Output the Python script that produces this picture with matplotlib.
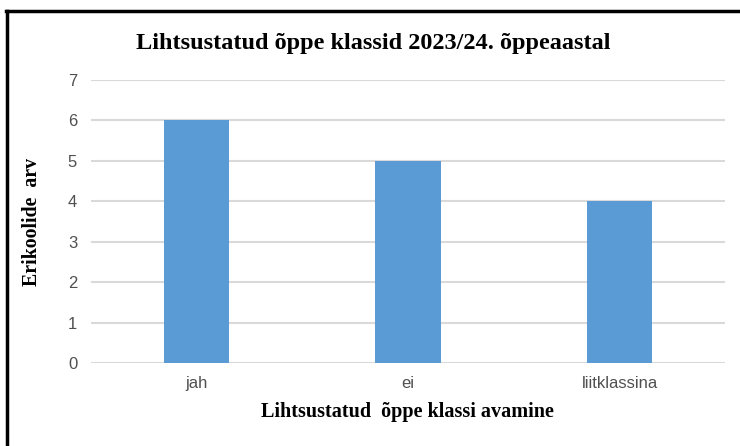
import matplotlib.pyplot as plt
from matplotlib.lines import Line2D

categories = ['jah', 'ei', 'liitklassina']
values = [6, 5, 4]
y_ticks = [0, 1, 2, 3, 4, 5, 6, 7]

title = 'Lihtsustatud õppe klassid 2023/24. õppeaastal'
x_label = 'Lihtsustatud  õppe klassi avamine'
y_label = 'Erikoolide  arv'


def main():
    fig = plt.figure(figsize=(7.4, 4.46), dpi=100)
    ax = fig.add_axes([0.123, 0.186, 0.857, 0.6346])

    ax.bar(range(len(categories)), values, width=0.31, color='#5b9bd5', zorder=3)
    ax.set_xlim(-0.5, len(categories) - 0.5)
    ax.set_ylim(0, 7)
    ax.set_yticks(y_ticks)
    ax.set_xticks(range(len(categories)))
    ax.set_xticklabels(categories)

    ax.grid(axis='y', color='#d9d9d9', linewidth=1.5, zorder=0)
    for s in ax.spines.values():
        s.set_visible(False)
    ax.tick_params(length=0, labelsize=12, labelcolor='#505050', pad=10,
                   labelfontfamily='Liberation Sans')
    ax.tick_params(axis='x', pad=9)

    fig.text(0.505, 0.902, title, ha='center', va='center',
             fontsize=17.5, fontweight='bold', family='Liberation Serif')
    fig.text(0.551, 0.076, x_label, ha='center', va='center',
             fontsize=14.5, fontweight='bold', family='Liberation Serif')
    fig.text(0.043, 0.502, y_label, ha='center', va='center', rotation=90,
             fontsize=14.3, fontweight='bold', family='Liberation Serif')

    # border of the picture (left and top only)
    fig.add_artist(Line2D([0.0101, 0.0101], [0.0, 0.9753], color='black',
                          linewidth=2.5, transform=fig.transFigure))
    fig.add_artist(Line2D([0.0085, 1.0], [0.9753, 0.9753], color='black',
                          linewidth=2.5, transform=fig.transFigure))

    fig.savefig('out.png', dpi=100)


if __name__ == "__main__":
    main()
